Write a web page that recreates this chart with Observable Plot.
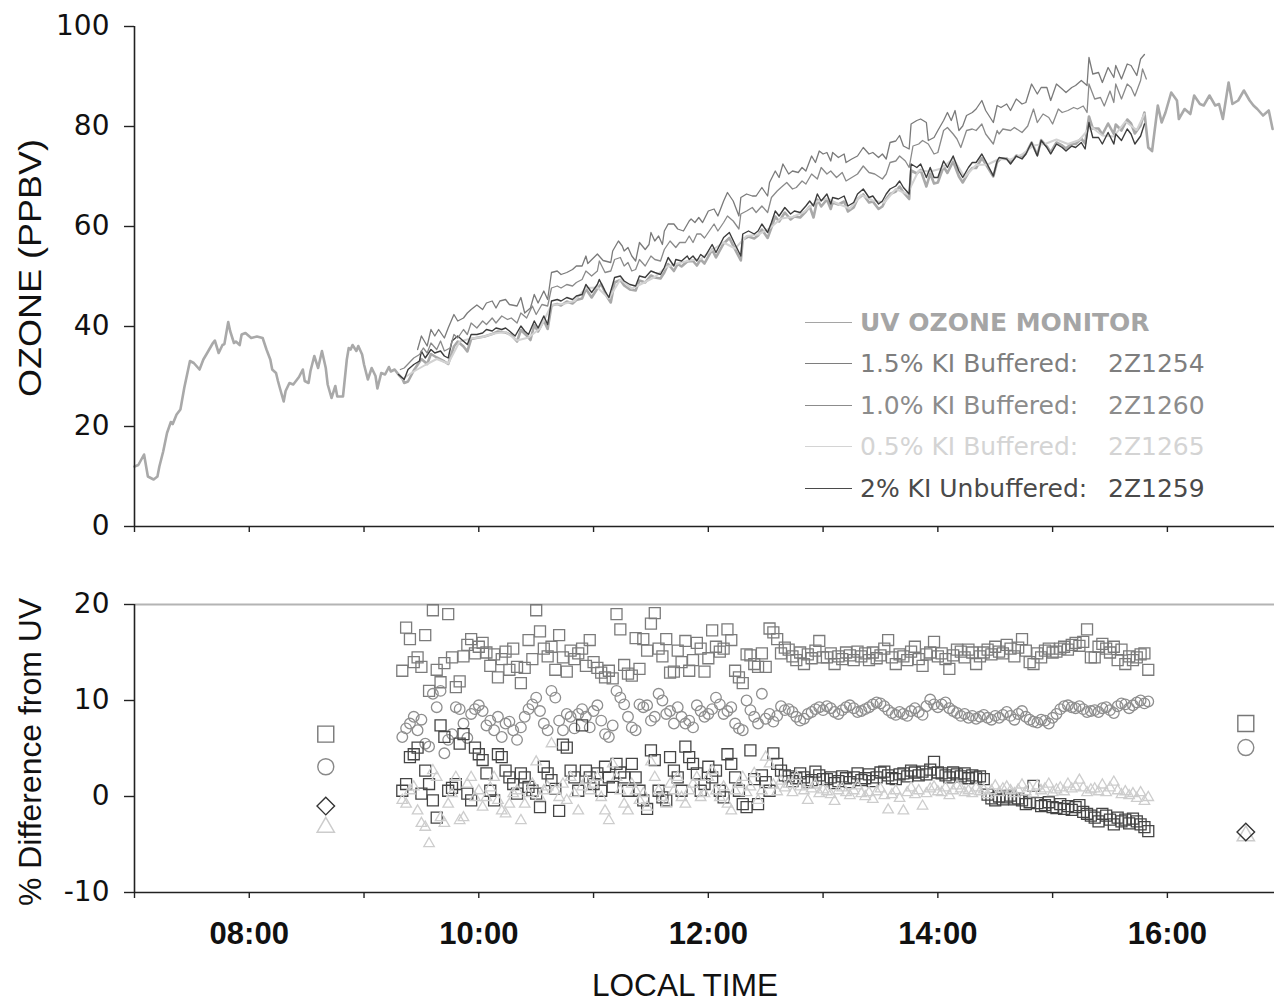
<!DOCTYPE html>
<html>
<head>
<meta charset="utf-8">
<script src="https://cdn.jsdelivr.net/npm/d3@7"></script>
<script src="https://cdn.jsdelivr.net/npm/@observablehq/plot@0.6"></script>
<style>
  html, body { margin: 0; padding: 0; background: #fff; overflow: hidden; }
  #wrap { position: relative; width: 1274px; height: 1004px; overflow: hidden; font-family: "Liberation Sans", Arial, sans-serif; }
  #wrap > svg { position: absolute; left: 0; }
  .leg { position: absolute; left: 805px; height: 30px; display: flex; align-items: center; font-family: "DejaVu Sans", sans-serif; font-size: 25px; white-space: pre; }
  .leg .ln { width: 47px; height: 0; border-top: 1.5px solid; margin-right: 8px; }
  .leg .id { position: absolute; left: 303px; }
</style>
</head>
<body>
<div id="wrap"></div>
<script>
// ---------------- DATA ----------------
// time axis ticks / labels
const hourTicks = ["07:00","08:00","09:00","10:00","11:00","12:00","13:00","14:00","15:00","16:00"];
const hourLabels = ["08:00","10:00","12:00","14:00","16:00"];
const timeDomain = ["07:00","16:56"];
const ozoneTicks = [0, 20, 40, 60, 80, 100];
const diffTicks = [-10, 0, 10, 20];

// UV ozone monitor (ppbv)
const uvOzone = [["07:00",12.0],["07:02",12.3],["07:05",14.4],["07:07",10.0],["07:10",9.4],["07:12",10.0],["07:13",12.0],["07:15",15.0],["07:17",18.7],["07:19",20.9],["07:20",20.5],["07:22",22.4],["07:24",23.4],["07:26",27.7],["07:29",33.1],["07:31",32.7],["07:34",31.4],["07:36",33.4],["07:38",34.7],["07:41",36.7],["07:42",37.2],["07:44",34.7],["07:46",36.3],["07:47",36.5],["07:49",40.9],["07:50",39.1],["07:52",36.7],["07:53",37.0],["07:55",36.3],["07:56",38.4],["07:58",38.7],["08:01",37.7],["08:04",38.0],["08:07",37.7],["08:09",35.4],["08:11",33.4],["08:12",31.4],["08:14",30.7],["08:15",29.1],["08:16",27.7],["08:18",25.0],["08:19",27.1],["08:21",28.7],["08:23",28.4],["08:25",29.4],["08:26",29.9],["08:28",31.4],["08:29",29.1],["08:31",28.7],["08:32",31.1],["08:34",34.1],["08:36",31.7],["08:38",35.1],["08:40",31.7],["08:41",28.4],["08:43",25.7],["08:45",28.1],["08:46",26.0],["08:49",26.0],["08:51",33.4],["08:52",35.7],["08:53",35.4],["08:54",36.3],["08:56",35.1],["08:57",36.1],["08:59",34.4],["09:00",32.4],["09:02",29.4],["09:04",31.7],["09:06",30.1],["09:07",27.6],["09:09",30.7],["09:11",30.4],["09:13",31.9],["09:14",31.0],["09:16",31.4],["09:18",30.4],["09:20",29.6],["09:21",28.7],
["09:23",29.0],["09:26",31.2],["09:30",33.5],["09:33",32.5],["09:35",34.5],["09:38",33.8],["09:42",33.0],["09:44",32.5],["09:47",36.0],["09:49",37.0],["09:52",36.0],["09:54",35.0],["09:56",37.5],["10:00",37.8],["10:03",38.0],["10:07",38.5],["10:10",39.0],["10:14",38.8],["10:17",38.3],["10:20",37.0],["10:22",39.3],["10:25",38.2],["10:27",37.3],["10:29",40.3],["10:31",39.0],["10:34",41.2],["10:36",39.5],["10:38",44.2],["10:41",44.5],["10:43",44.2],["10:46",45.0],["10:49",44.6],["10:51",45.3],["10:54",45.6],["10:56",47.5],["10:59",45.8],["11:02",47.6],["11:04",48.5],["11:07",46.0],["11:09",44.8],["11:11",48.8],["11:14",49.3],["11:16",48.2],["11:19",47.4],["11:22",47.2],["11:24",49.2],["11:27",48.8],["11:30",50.2],["11:32",49.8],["11:35",49.6],["11:37",50.8],["11:39",52.5],["11:42",51.1],["11:44",52.5],["11:46",52.0],["11:49",53.0],["11:52",53.1],["11:54",52.2],["11:56",53.4],["11:58",52.6],["12:02",55.4],["12:04",53.8],["12:08",56.6],["12:11",57.7],["12:14",55.4],["12:17",53.2],["12:18",57.4],["12:21",58.0],["12:24",57.6],["12:26",58.2],["12:28",59.4],["12:31",57.7],["12:33",59.8],["12:35",62.0],["12:37",61.0],["12:40",62.8],["12:43",61.4],["12:45",62.0],["12:48",61.8],["12:51",63.0],["12:53",64.0],["12:55",61.8],["12:57",65.4],["12:59",64.0],["13:02",65.4],["13:04",63.5],["13:05",64.8],["13:08",64.4],["13:11",65.0],["13:13",63.0],["13:16",63.8],["13:18",65.5],["13:21",66.4],["13:24",64.8],["13:26",65.0],["13:29",63.5],["13:31",64.0],["13:33",65.5],["13:35",66.5],["13:38",67.0],["13:40",68.0],["13:42",66.8],["13:45",65.5],["13:46",71.2],["13:49",70.6],["13:51",71.3],["13:54",68.0],["13:56",70.6],["13:58",68.6],["14:00",68.8],["14:03",72.0],["14:05",70.7],["14:08",73.0],["14:11",70.0],["14:13",68.8],["14:16",70.8],["14:18",71.7],["14:20",71.7],["14:23",73.7],["14:25",72.5],["14:29",70.0],["14:31",72.9],["14:33",73.6],["14:36",73.6],["14:38",72.8],["14:41",74.2],["14:44",73.8],["14:46",74.6],["14:49",76.8],["14:52",74.3],["14:54",77.3],["14:57",76.0],["14:59",74.8],["15:02",76.8],["15:05",76.2],["15:07",75.6],["15:10",76.6],["15:12",76.5],["15:15",77.6],["15:17",76.6],["15:19",82.0],["15:21",79.6],["15:24",79.6],["15:26",78.4],["15:29",80.6],["15:32",78.5],["15:33",80.4],["15:36",79.2],["15:39",81.4],["15:41",80.6],["15:43",78.6],["15:46",80.2],["15:48",82.8],["15:50",75.8],["15:52",75.1],["15:55",84.2],["15:57",80.8],["15:59",82.8],["16:02",86.8],["16:05",85.2],["16:06",81.5],["16:09",83.5],["16:12",82.5],["16:14",86.2],["16:17",84.5],["16:19",84.2],["16:22",86.2],["16:25",84.2],["16:27",84.5],["16:29",81.5],["16:32",88.8],["16:34",84.5],["16:37",85.2],["16:40",87.2],["16:43",85.2],["16:45",84.2],["16:47",83.5],["16:50",82.2],["16:53",83.2],["16:55",79.5]];

// 1.5% KI buffered, 2Z1254
const ki15 = [["09:28",35.4],["09:30",38.1],["09:33",36.1],["09:35",39.4],["09:37",38.1],["09:39",39.4],["09:42",37.7],["09:44",39.7],["09:47",42.4],["09:49",41.1],["09:52",41.7],["09:54",42.7],["09:56",43.4],["09:59",44.3],["10:02",43.4],["10:04",44.7],["10:07",45.1],["10:09",43.7],["10:11",45.1],["10:14",45.4],["10:16",44.4],["10:20",44.1],["10:22",45.8],["10:24",42.7],["10:27",43.7],["10:29",46.4],["10:31",44.7],["10:34",47.1],["10:36",45.4],["10:38",50.8],["10:41",51.1],["10:43",50.4],["10:46",50.8],["10:49",51.4],["10:51",52.1],["10:54",52.1],["10:56",54.1],["10:57",52.6],["11:02",54.5],["11:05",53.2],["11:09",52.8],["11:10",55.1],["11:13",57.1],["11:15",56.1],["11:16",55.1],["11:18",55.8],["11:20",54.1],["11:22",53.1],["11:24",56.8],["11:27",55.4],["11:29",56.4],["11:30",58.8],["11:32",57.1],["11:34",58.1],["11:36",56.4],["11:37",59.1],["11:39",60.5],["11:42",60.5],["11:44",59.5],["11:47",59.1],["11:50",61.1],["11:51",61.5],["11:53",60.8],["11:55",61.8],["11:57",60.8],["12:00",63.1],["12:03",63.5],["12:05",62.1],["12:08",65.1],["12:10",66.8],["12:13",65.1],["12:16",62.1],["12:17",65.8],["12:20",66.5],["12:23",66.1],["12:25",66.1],["12:28",67.8],["12:31",66.1],["12:32",68.8],["12:35",71.1],["12:37",69.8],["12:39",72.5],["12:42",70.5],["12:44",71.1],["12:47",70.8],["12:49",71.8],["12:51",71.1],["12:54",74.1],["12:56",72.8],["12:58",75.1],["13:00",74.5],["13:02",74.8],["13:04",73.1],["13:05",74.8],["13:08",73.8],["13:11",74.5],["13:12",72.8],["13:15",73.5],["13:18",74.1],["13:21",75.8],["13:24",74.5],["13:26",74.8],["13:29",73.8],["13:31",74.5],["13:33",73.5],["13:35",76.8],["13:38",77.1],["13:40",78.2],["13:42",76.1],["13:45",75.5],["13:46",80.5],["13:49",81.2],["13:51",81.5],["13:54",80.8],["13:55",77.2],["13:58",77.8],["14:00",79.2],["14:03",81.2],["14:05",82.8],["14:07",81.2],["14:09",83.2],["14:11",79.2],["14:13",80.1],["14:15",82.2],["14:18",82.8],["14:20",83.5],["14:23",85.2],["14:25",83.2],["14:29",80.8],["14:31",84.2],["14:33",83.8],["14:36",84.5],["14:38",83.2],["14:41",85.5],["14:44",84.5],["14:46",84.8],["14:49",88.5],["14:52",86.5],["14:54",87.8],["14:57",87.8],["14:59",85.2],["15:02",88.5],["15:05",87.5],["15:07",86.8],["15:10",87.8],["15:12",88.2],["15:15",89.2],["15:18",88.2],["15:19",93.8],["15:21",90.5],["15:24",90.8],["15:26",88.8],["15:29",91.8],["15:32",89.8],["15:33",92.2],["15:36",89.5],["15:39",92.5],["15:41",92.2],["15:44",90.2],["15:46",93.5],["15:48",94.4]];

// 1.0% KI buffered, 2Z1260
const ki10 = [["09:19",31.4],["09:21",31.7],["09:26",33.7],["09:29",34.4],["09:31",35.7],["09:33",34.7],["09:35",36.7],["09:38",35.4],["09:40",37.1],["09:42",35.1],["09:45",35.7],["09:47",38.4],["09:49",37.7],["09:52",39.4],["09:54",38.4],["09:56",40.7],["09:59",39.7],["10:02",41.1],["10:04",40.4],["10:07",41.7],["10:09",40.7],["10:12",42.1],["10:15",41.4],["10:17",41.7],["10:20",40.7],["10:22",42.7],["10:25",41.7],["10:28",44.1],["10:30",42.4],["10:33",44.4],["10:36",44.1],["10:38",47.7],["10:41",48.1],["10:43",47.7],["10:46",48.4],["10:49",48.1],["10:51",48.8],["10:54",49.4],["10:56",51.1],["10:59",50.1],["11:02",51.1],["11:03",53.1],["11:06",50.8],["11:09",51.1],["11:11",53.4],["11:14",53.8],["11:16",52.1],["11:18",52.8],["11:20",51.1],["11:22",51.4],["11:24",53.4],["11:27",52.1],["11:30",54.1],["11:32",53.4],["11:35",53.1],["11:37",55.4],["11:40",57.1],["11:43",55.8],["11:45",56.8],["11:48",56.8],["11:50",58.1],["11:52",56.8],["11:54",58.5],["11:56",58.5],["11:58",57.7],["12:03",60.5],["12:05",59.1],["12:08",60.8],["12:10",62.1],["12:13",61.1],["12:16",59.5],["12:17",62.5],["12:20",63.1],["12:23",63.8],["12:25",62.8],["12:28",64.1],["12:31",62.8],["12:33",65.8],["12:36",67.1],["12:38",67.8],["12:41",68.8],["12:44",67.5],["12:46",67.8],["12:49",69.1],["12:51",68.5],["12:54",70.5],["12:57",69.5],["12:59",71.8],["13:02",70.5],["13:04",71.1],["13:07",69.8],["13:10",70.8],["13:12",69.1],["13:15",69.8],["13:18",70.5],["13:21",72.1],["13:24",70.8],["13:27",70.5],["13:31",69.5],["13:33",70.5],["13:35",72.8],["13:38",73.1],["13:40",74.1],["13:43",73.1],["13:45",71.8],["13:47",76.1],["13:50",76.5],["13:52",77.2],["13:55",76.5],["13:58",74.5],["14:00",74.8],["14:03",79.2],["14:05",79.8],["14:08",78.5],["14:10",77.5],["14:12",75.8],["14:15",79.2],["14:18",79.5],["14:20",79.2],["14:23",80.5],["14:25",78.5],["14:29",76.5],["14:31",79.2],["14:32",78.5],["14:34",79.5],["14:38",79.2],["14:40",79.8],["14:44",78.8],["14:47",80.1],["14:50",83.5],["14:52",80.8],["14:55",82.5],["14:58",81.8],["15:00",80.5],["15:03",83.5],["15:05",82.8],["15:08",83.2],["15:11",83.8],["15:13",83.5],["15:16",84.1],["15:18",82.8],["15:19",88.5],["15:22",85.5],["15:25",85.8],["15:27",84.1],["15:30",87.1],["15:32",84.8],["15:33",88.5],["15:36",85.5],["15:39",88.5],["15:41",87.8],["15:43",86.1],["15:46",89.2],["15:47",91.5],["15:49",89.5]];

// 0.5% KI buffered, 2Z1265
const ki05 = [["09:20",29.5],["09:26",31.0],["09:32",32.3],["09:38",33.5],["09:44",32.6],["09:50",37.0],["09:56",37.6],["10:02",37.9],["10:08",38.6],["10:14",38.9],["10:20",37.2],["10:26",37.8],["10:32",39.6],["10:38",44.3],["10:44",44.5],["10:50",45.1],["10:56",47.7],["11:02",47.8],["11:08",45.6],["11:14",49.4],["11:20",47.6],["11:26",48.7],["11:32",49.9],["11:38",51.9],["11:44",52.6],["11:50",53.2],["11:56",53.5],["12:02",55.3],["12:08",56.8],["12:14",55.6],["12:20",58.1],["12:26",58.4],["12:32",59.6],["12:38",61.6],["12:44",61.9],["12:50",62.9],["12:56",64.9],["13:02",65.6],["13:08",64.5],["13:14",63.6],["13:20",66.3],["13:26",65.2],["13:32",64.8],["13:38",67.5],["13:44",66.5],["13:50",71.2],["13:56",71.0],["14:02",71.6],["14:08",73.6],["14:14",69.9],["14:20",72.3],["14:26",72.4],["14:32",73.5],["14:38",73.4],["14:44",74.4],["14:50",76.2],["14:56",76.5],["15:02",77.4],["15:08",76.5],["15:14",77.3],["15:20",80.0],["15:26",78.2],["15:32",78.0],["15:38",81.0],["15:44",79.3],["15:48",82.5]];

// 2% KI unbuffered, 2Z1259
const ki20 = [["09:18",30.4],["09:21",29.4],["09:23",31.4],["09:26",32.4],["09:29",33.1],["09:30",35.1],["09:32",33.7],["09:35",35.4],["09:37",34.7],["09:40",35.1],["09:42",34.1],["09:44",33.7],["09:46",37.1],["09:49",38.1],["09:51",37.4],["09:54",36.4],["09:56",38.4],["09:59",38.4],["10:02",38.7],["10:04",39.4],["10:07",39.1],["10:09",39.7],["10:12",39.4],["10:14",39.7],["10:16",39.1],["10:19",38.1],["10:22",40.1],["10:24",39.1],["10:26",38.4],["10:29",41.1],["10:31",39.7],["10:34",42.1],["10:36",40.4],["10:38",45.1],["10:41",45.4],["10:43",45.1],["10:46",45.8],["10:49",45.4],["10:51",46.1],["10:54",46.4],["10:56",48.4],["10:59",46.8],["11:02",48.4],["11:03",49.4],["11:06",47.1],["11:08",45.8],["11:10",48.4],["11:11",49.8],["11:14",50.1],["11:16",49.1],["11:19",48.4],["11:22",48.1],["11:24",50.1],["11:27",49.8],["11:30",51.1],["11:32",50.8],["11:35",50.4],["11:37",51.8],["11:39",53.8],["11:42",52.1],["11:43",53.4],["11:46",53.1],["11:49",54.1],["11:50",53.4],["11:52",54.1],["11:54",53.1],["11:56",54.4],["11:58",53.8],["12:02",56.4],["12:04",54.8],["12:08",57.8],["12:11",58.8],["12:14",56.4],["12:17",54.1],["12:18",58.5],["12:21",59.1],["12:24",58.5],["12:26",59.1],["12:28",60.5],["12:31",58.8],["12:33",60.8],["12:35",63.1],["12:37",62.1],["12:40",63.8],["12:43",62.5],["12:45",63.1],["12:48",62.8],["12:51",64.1],["12:53",65.1],["12:55",64.1],["12:57",66.5],["12:59",65.1],["13:02",66.5],["13:04",64.5],["13:05",65.8],["13:08",65.5],["13:11",66.1],["13:13",64.1],["13:16",64.8],["13:18",66.5],["13:21",67.5],["13:24",65.8],["13:26",66.1],["13:29",64.5],["13:31",65.1],["13:33",66.5],["13:35",67.5],["13:38",68.1],["13:40",69.1],["13:42",67.8],["13:45",66.5],["13:46",72.5],["13:49",71.8],["13:51",72.5],["13:54",69.8],["13:56",71.8],["13:58",69.8],["14:00",69.8],["14:03",73.1],["14:05",71.8],["14:08",74.1],["14:11",71.1],["14:13",69.8],["14:16",71.8],["14:18",72.8],["14:20",72.8],["14:23",74.5],["14:25",73.1],["14:29",70.1],["14:31",73.1],["14:32",73.8],["14:36",73.5],["14:38",72.5],["14:41",74.1],["14:44",73.5],["14:46",74.5],["14:49",76.8],["14:52",74.1],["14:54",77.2],["14:57",75.8],["14:59",74.5],["15:02",76.5],["15:05",75.8],["15:07",75.1],["15:10",76.1],["15:12",75.8],["15:15",76.8],["15:17",75.5],["15:19",80.8],["15:21",77.8],["15:24",77.8],["15:26",76.5],["15:29",78.8],["15:32",76.5],["15:33",78.5],["15:36",77.2],["15:39",79.5],["15:41",78.5],["15:43",76.5],["15:46",78.1],["15:48",80.5]];

// % difference from UV, sampled every 2 minutes from 09:20
const diffStart = "09:20";
const diffStepMinutes = 2;
const diff15 = [13.1,17.6,16.4,14.0,14.5,13.5,16.8,11.0,19.4,13.2,11.9,13.9,19.0,14.5,11.4,12.0,14.6,15.8,16.4,14.9,15.6,16.0,15.0,13.6,14.8,12.4,14.3,15.1,13.2,15.4,13.5,11.8,13.4,16.3,14.3,19.4,17.2,15.4,14.6,15.6,13.2,16.8,14.5,13.0,15.2,14.3,14.9,15.4,13.6,16.3,14.0,13.4,12.9,12.4,13.1,12.3,19.0,17.4,13.7,12.8,12.6,16.5,13.3,16.4,15.2,18.0,19.1,15.4,14.6,16.4,12.9,13.0,15.2,14.0,16.2,13.1,14.2,16.0,15.4,13.0,14.4,17.3,15.6,15.1,15.4,17.4,16.3,13.1,12.4,11.8,14.8,14.7,13.8,13.5,14.9,13.5,17.5,17.1,16.4,14.9,15.5,15.3,14.6,14.2,15.0,13.8,14.8,14.4,15.2,16.2,14.5,14.5,14.9,13.8,14.6,14.3,15.0,14.7,14.2,15.1,14.6,14.9,14.2,15.0,14.4,14.7,15.4,16.3,14.5,13.8,14.8,14.6,14.2,15.1,15.6,14.3,13.6,14.8,15.0,16.1,14.6,14.9,14.3,13.3,14.7,15.3,15.1,14.5,15.3,15.0,13.8,14.6,15.0,15.3,14.8,15.6,15.1,14.9,15.8,15.4,14.6,15.5,16.4,15.2,14.0,13.8,14.9,14.5,15.2,15.4,15.0,15.1,15.4,15.6,15.3,15.8,16.0,15.7,16.1,17.4,14.5,14.5,15.6,15.9,15.4,15.0,15.6,14.2,15.3,13.8,14.6,14.2,14.5,14.8,14.9,13.2];
const diff10 = [6.2,7.1,7.6,8.3,6.9,8.0,5.5,5.2,10.7,9.3,11.0,4.5,5.9,6.5,9.3,9.1,7.6,6.1,8.6,9.1,9.5,8.9,7.4,7.9,6.9,8.3,6.2,7.6,7.8,6.9,5.9,7.2,8.3,9.1,9.6,10.3,8.9,7.6,6.9,11.0,10.3,7.9,6.9,8.6,8.3,7.1,8.6,9.1,8.3,7.2,8.9,9.5,7.9,6.5,6.2,7.4,11.0,10.3,9.6,8.3,7.2,6.9,9.6,9.3,9.5,7.9,8.3,10.7,10.0,8.6,8.9,7.6,9.3,8.3,7.6,7.9,7.2,9.5,8.9,8.3,8.6,9.1,10.3,9.6,8.6,8.9,9.3,7.6,7.1,6.9,10.0,9.0,8.3,7.6,10.7,8.1,8.6,7.8,8.4,9.4,9.0,9.1,8.8,8.3,7.9,8.1,8.6,8.8,9.1,9.3,9.0,9.4,9.2,8.8,8.6,9.0,9.3,9.5,9.2,8.8,8.9,9.1,9.3,9.6,9.8,9.7,9.4,9.0,8.7,8.5,8.8,8.6,8.4,8.9,9.2,8.8,8.5,9.4,10.1,9.6,9.3,9.6,9.8,9.2,8.9,8.7,8.4,8.6,8.2,8.4,8.1,8.3,8.5,8.2,8.0,8.4,8.2,8.5,8.8,8.4,8.0,8.6,8.9,8.3,8.0,7.8,7.7,8.0,7.9,7.6,8.2,8.6,9.1,9.4,9.5,9.3,9.2,9.4,9.1,8.8,8.9,9.0,8.8,9.2,9.3,9.0,8.7,9.4,9.7,9.6,9.2,9.5,9.8,10.0,9.7,9.9];
const diff20 = [0.6,1.3,4.1,4.4,5.1,0.3,2.7,1.3,-0.4,-2.2,7.4,6.2,0.6,0.9,1.3,5.5,6.5,0.3,-0.4,5.1,4.4,3.8,2.4,0.6,-0.4,4.4,4.1,2.7,2.0,1.3,0.3,2.4,2.0,1.0,0.6,0.3,-1.1,3.1,2.4,1.7,0.8,-1.5,5.4,5.1,2.7,2.0,0.6,7.4,2.7,2.0,1.3,2.4,0.6,3.1,2.0,1.0,3.4,2.5,2.0,0.6,3.4,2.0,0.6,-0.4,-1.3,4.8,3.8,0.6,-0.1,-0.4,4.1,2.7,2.0,0.6,5.2,4.1,3.4,2.4,0.6,1.3,3.1,2.0,2.7,0.6,-0.1,4.4,3.4,2.0,0.6,-0.8,-1.1,4.8,1.8,-0.8,2.2,1.5,0.6,4.5,3.4,2.7,2.2,2.1,1.6,1.9,2.4,2.0,1.5,1.7,2.6,2.2,1.8,1.8,2.0,1.4,1.6,2.1,1.9,1.5,2.0,2.4,1.7,1.9,2.3,1.6,2.0,2.5,2.6,2.2,1.9,1.8,2.3,2.4,2.1,2.7,2.5,2.2,2.6,2.3,2.8,3.6,2.5,2.4,2.2,2.0,2.5,2.3,2.1,2.4,1.9,2.2,2.0,2.1,1.8,0.2,-0.2,-0.4,0.0,-0.3,-0.1,0.1,-0.3,-0.2,-0.4,-0.8,-0.6,1.1,-0.7,-1.0,-0.9,-0.6,-1.1,-1.2,-0.8,-1.3,-1.0,-1.4,-1.1,-0.9,-1.6,-1.8,-2.0,-2.2,-2.6,-1.8,-2.0,-2.4,-2.9,-2.2,-2.6,-2.4,-2.8,-2.3,-2.6,-2.9,-3.2,-3.6];
const diff05 = [-0.4,-0.8,0.6,1.0,-1.5,-2.8,-3.2,-4.9,2.7,2.0,-2.2,-2.8,-0.8,0.3,2.0,-2.5,-2.2,1.3,2.0,-0.1,0.6,-1.1,-0.1,0.9,2.0,-0.4,-1.5,-1.8,-0.8,0.3,0.6,-2.5,-0.8,0.3,1.3,3.6,-0.1,0.6,1.0,5.5,0.6,-0.1,1.3,-0.4,2.0,0.3,-1.5,1.0,1.7,0.6,1.3,2.0,-0.1,-1.5,-2.5,3.4,2.0,0.6,-0.8,-1.5,1.3,0.6,-0.4,0.3,-1.1,3.6,2.0,0.6,-0.1,-0.8,1.3,0.6,2.0,-0.1,-0.8,0.6,1.3,2.0,-0.1,0.3,2.0,2.7,0.6,-0.1,1.0,-0.8,-1.5,0.6,1.3,2.0,0.4,1.0,2.4,-0.4,0.6,4.1,3.4,1.2,0.5,1.6,0.9,1.3,0.4,2.1,1.0,0.6,-0.4,0.8,1.2,0.3,0.7,0.5,0.2,-0.5,0.6,0.9,0.4,0.1,0.6,1.1,0.3,0.0,0.4,-0.3,0.5,0.8,0.1,-1.4,0.2,0.6,-0.2,-1.5,0.4,0.9,0.2,0.6,-1.0,0.3,0.8,1.0,0.5,0.4,0.9,0.1,0.6,1.1,0.8,0.4,0.6,0.3,0.9,0.5,0.7,0.2,0.6,1.1,0.4,0.8,1.0,0.6,0.3,0.7,1.2,0.5,0.9,0.3,1.1,0.6,0.8,1.3,0.4,0.7,0.9,0.5,1.3,0.8,1.0,1.7,0.9,0.4,0.7,0.8,0.5,1.2,0.4,0.9,1.5,0.6,0.2,0.5,0.1,0.3,-0.2,0.4,-0.5,-0.1];

// isolated comparison points
const calTimes = ["08:40", "16:41"];
const cal15 = [6.5, 7.6];
const cal10 = [3.1, 5.1];
const cal20 = [-1.0, -3.7];
const cal05 = [-3.2, -4.1];

// ---------------- BUILD ----------------
const toH = s => { const [h, m] = s.split(":").map(Number); return h + m / 60; };
const xDomain = timeDomain.map(toH);
const fmtTick = h => { const hh = Math.round(h); const lbl = String(hh).padStart(2, "0") + ":00"; return hourLabels.includes(lbl) ? lbl : ""; };

const series = (arr) => arr.map(d => ({t: toH(d[0]), v: d[1]}));
const t0 = toH(diffStart);
const sampled = vals => vals.map((v, i) => ({t: t0 + i * diffStepMinutes / 60, v}));
const cal = vals => vals.map((v, i) => ({t: toH(calTimes[i]), v}));

const diamond = { draw(ctx, size) { const s = Math.sqrt(size / 2); ctx.moveTo(0, -s); ctx.lineTo(s, 0); ctx.lineTo(0, s); ctx.lineTo(-s, 0); ctx.closePath(); } };

const axisColor = "#222";

const topPlot = Plot.plot({
  width: 1274, height: 540,
  marginLeft: 134, marginRight: 0, marginTop: 26, marginBottom: 14,
  x: {domain: xDomain, axis: null},
  y: {domain: [0, 100], axis: null},
  style: {background: "transparent", color: "#111", fontFamily: "DejaVu Sans, sans-serif", overflow: "visible"},
  marks: [
    Plot.line(series(uvOzone), {x: "t", y: "v", stroke: "#a9a9a9", strokeWidth: 2.6, strokeLinejoin: "round"}),
    Plot.line(series(ki05), {x: "t", y: "v", stroke: "#d2d2d2", strokeWidth: 2}),
    Plot.line(series(ki20), {x: "t", y: "v", stroke: "#3c3c3c", strokeWidth: 1.4}),
    Plot.line(series(ki10), {x: "t", y: "v", stroke: "#8a8a8a", strokeWidth: 1.3}),
    Plot.line(series(ki15), {x: "t", y: "v", stroke: "#7a7a7a", strokeWidth: 1.3}),
    Plot.ruleX([xDomain[0]], {stroke: axisColor, strokeWidth: 1.6}),
    Plot.ruleY([0], {stroke: axisColor, strokeWidth: 1.6}),
    Plot.axisY({ticks: ozoneTicks, tickSize: 10, tickPadding: 15, tickFormat: d => String(d), fontSize: 28, label: null, stroke: axisColor, strokeWidth: 1.4}),
    Plot.axisX({ticks: hourTicks.map(toH), tickSize: 6, tickFormat: () => "", label: null, stroke: axisColor, strokeWidth: 1.4})
  ]
});
topPlot.style.top = "0px";

const sq = "square", tri = "triangle";
const bottomPlot = Plot.plot({
  width: 1274, height: 464,
  marginLeft: 134, marginRight: 0, marginTop: 64, marginBottom: 112,
  x: {domain: xDomain, axis: null},
  y: {domain: [-10, 20], axis: null},
  style: {background: "transparent", color: "#111", fontFamily: "DejaVu Sans, sans-serif", overflow: "visible"},
  marks: [
    Plot.ruleY([20], {stroke: "#b4b4b4", strokeWidth: 2}),
    Plot.dot(sampled(diff15), {x: "t", y: "v", symbol: sq, r: 6.2, stroke: "#7b7b7b", strokeWidth: 1.3, fill: "none"}),
    Plot.dot(sampled(diff10), {x: "t", y: "v", symbol: "circle", r: 5.3, stroke: "#8e8e8e", strokeWidth: 1.3, fill: "none"}),
    Plot.dot(sampled(diff20), {x: "t", y: "v", symbol: sq, r: 6.2, stroke: "#454545", strokeWidth: 1.3, fill: "none"}),
    Plot.dot(sampled(diff05), {x: "t", y: "v", symbol: tri, r: 3.9, stroke: "#cdcdcd", strokeWidth: 1.3, fill: "none"}),
    Plot.dot(cal(cal15), {x: "t", y: "v", symbol: sq, r: 9, stroke: "#777", strokeWidth: 1.4, fill: "none"}),
    Plot.dot(cal(cal10), {x: "t", y: "v", symbol: "circle", r: 8, stroke: "#888", strokeWidth: 1.4, fill: "none"}),
    Plot.dot(cal(cal05), {x: "t", y: "v", symbol: tri, r: 6.4, stroke: "#cccccc", strokeWidth: 1.5, fill: "none"}),
    Plot.dot(cal(cal20), {x: "t", y: "v", symbol: diamond, r: 7, stroke: "#333", strokeWidth: 1.4, fill: "none"}),
    Plot.ruleX([xDomain[0]], {stroke: axisColor, strokeWidth: 1.6}),
    Plot.ruleY([-10], {stroke: axisColor, strokeWidth: 1.6}),
    Plot.axisY({ticks: diffTicks, tickSize: 10, tickPadding: 15, tickFormat: d => String(d), fontSize: 28, label: null, stroke: axisColor, strokeWidth: 1.4}),
    Plot.axisX({ticks: hourTicks.map(toH), tickSize: 6, tickPadding: 23, tickFormat: fmtTick, fontSize: 31, label: null, stroke: axisColor, strokeWidth: 1.4})
  ]
});
bottomPlot.style.top = "540px";
d3.select(bottomPlot).selectAll('g[aria-label="x-axis tick label"] text')
  .attr("font-weight", "bold").attr("font-family", "Liberation Sans, Arial, sans-serif");

const wrap = document.getElementById("wrap");
wrap.appendChild(topPlot);
wrap.appendChild(bottomPlot);

// axis titles
const over = d3.select(wrap).append("svg")
  .attr("width", 1274).attr("height", 1004)
  .style("position", "absolute").style("left", "0px").style("top", "0px")
  .style("font-family", "Liberation Sans, Arial, sans-serif");
over.append("text").text("OZONE (PPBV)")
  .attr("x", 41).attr("y", 268).attr("transform", "rotate(-90 41 268)")
  .attr("text-anchor", "middle").attr("font-size", 31).attr("fill", "#111")
  .attr("textLength", 258).attr("lengthAdjust", "spacingAndGlyphs");
over.append("text").text("% Difference from UV")
  .attr("x", 41).attr("y", 752).attr("transform", "rotate(-90 41 752)")
  .attr("text-anchor", "middle").attr("font-size", 31).attr("fill", "#111")
  .attr("textLength", 308).attr("lengthAdjust", "spacingAndGlyphs");
over.append("text").text("LOCAL TIME")
  .attr("x", 685).attr("y", 996)
  .attr("text-anchor", "middle").attr("font-size", 32).attr("fill", "#111")
  .attr("textLength", 186).attr("lengthAdjust", "spacingAndGlyphs");

// legend
const legendRows = [
  {label: "UV OZONE MONITOR", id: "", color: "#a5a5a5", bold: true},
  {label: "1.5% KI Buffered:", id: "2Z1254", color: "#7e7e7e"},
  {label: "1.0% KI Buffered:", id: "2Z1260", color: "#8c8c8c"},
  {label: "0.5% KI Buffered:", id: "2Z1265", color: "#d4d4d4"},
  {label: "2% KI Unbuffered:", id: "2Z1259", color: "#4a4a4a"}
];
const legendTop = 322, legendGap = 41.6;
legendRows.forEach((r, i) => {
  const row = document.createElement("div");
  row.className = "leg";
  row.style.top = (legendTop + i * legendGap - 15) + "px";
  row.style.color = r.color;
  if (r.bold) row.style.fontWeight = "bold";
  const ln = document.createElement("span"); ln.className = "ln"; ln.style.borderColor = r.color;
  const tx = document.createElement("span"); tx.textContent = r.label;
  row.appendChild(ln); row.appendChild(tx);
  if (r.id) { const id = document.createElement("span"); id.className = "id"; id.textContent = r.id; row.appendChild(id); }
  wrap.appendChild(row);
});
</script>
</body>
</html>
